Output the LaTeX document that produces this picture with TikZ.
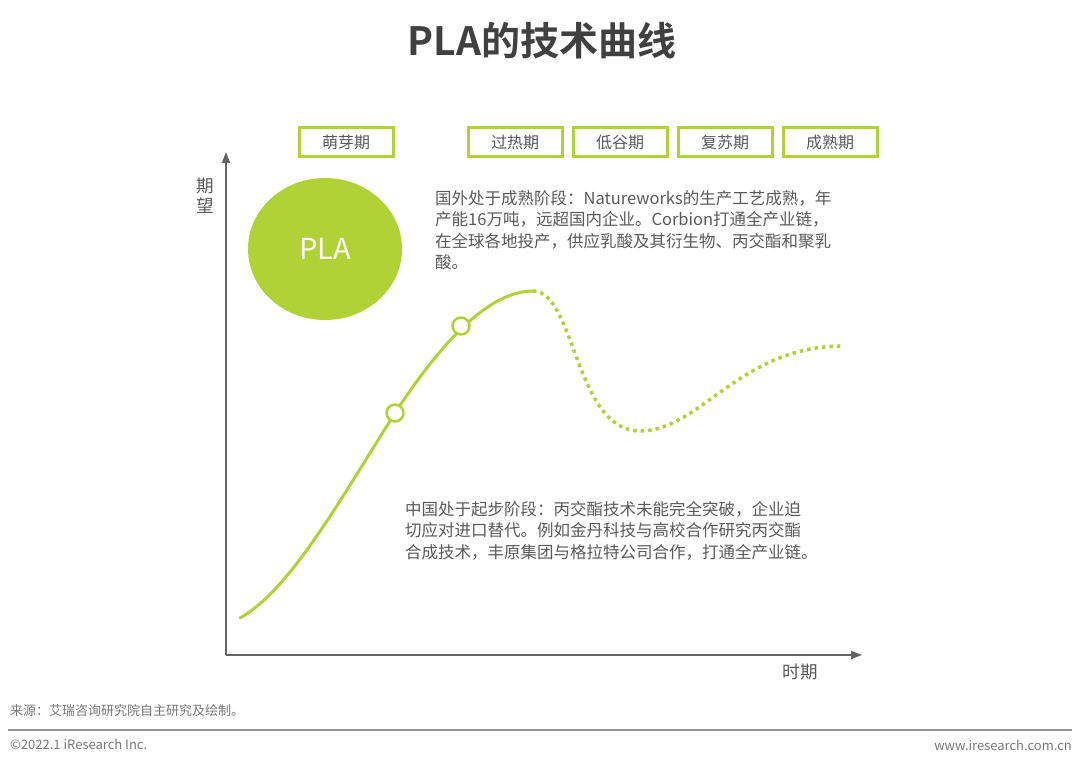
\documentclass[tikz,border=0pt]{standalone}
\usepackage{fontspec}
\setmainfont{Noto Sans CJK SC}[BoldFont={* Bold}]
\usepackage{xcolor}
\usetikzlibrary{arrows.meta,positioning,shapes.geometric}
\definecolor{leafgreen}{RGB}{176,210,54}
\definecolor{textgray}{RGB}{89,89,89}
\definecolor{titlegray}{RGB}{64,64,64}
\definecolor{axisgray}{RGB}{100,100,100}
\definecolor{footgray}{RGB}{120,120,120}

\begin{document}
\begin{tikzpicture}[x=1pt,y=-1pt,
  node distance=8pt,
  phase/.style={draw=leafgreen,line width=3pt,fill=white,text=textgray,minimum width=94pt,minimum height=29pt,inner sep=0pt,font=\fontsize{16}{18}\selectfont},
  note/.style={text=textgray,align=left,anchor=north west,inner sep=0pt,font=\fontsize{16.5}{21.5}\selectfont},
  axis/.style={-{Triangle[length=11pt,width=8pt]},draw=axisgray,line width=1.6pt},
  milestone/.style={circle,draw=leafgreen,line width=2.5pt,fill=white,minimum size=17pt,inner sep=0pt},
  trend/.style={draw=leafgreen,line width=3pt,line cap=round},
  foot/.style={text=footgray,inner sep=0pt,font=\fontsize{13}{15}\selectfont}
]
\useasboundingbox (0,0) rectangle (1080,765);

% title
\node[text=titlegray,font=\fontsize{39}{42}\selectfont\bfseries] (title) at (542,41) {PLA的技术曲线};

% phases
\node[phase] (sprout) at (346,142) {萌芽期};
\node[phase] (overheat) at (515,142) {过热期};
\node[phase,right=of overheat] (trough) {低谷期};
\node[phase,right=of trough] (recover) {复苏期};
\node[phase,right=of recover] (mature) {成熟期};

% axes
\coordinate (origin) at (226,655);
\coordinate (ytop) at (226,152);
\coordinate (xend) at (862,655);
\draw[axis] (origin) -- (ytop);
\draw[axis] (origin) -- (xend);
\node[text=textgray,align=center,font=\fontsize{17.5}{20}\selectfont] (ylabel) at (205,196) {期\\望};
\node[text=textgray,font=\fontsize{17.5}{20}\selectfont] (xlabel) at (800,672) {时期};

% PLA bubble
\node[ellipse,fill=leafgreen,minimum width=154pt,minimum height=142pt,text=white,font=\fontsize{29}{32}\selectfont] (pla) at (325,249) {PLA};

% curve
\draw[trend] (240,618) .. controls (290,590) and (340,500) .. (395,413)
  .. controls (435,352) and (485,291) .. (533,291);
\draw[draw=leafgreen,line width=3.5pt,dash pattern=on 3.5pt off 4pt] (533,291) .. controls (575,291) and (575,431) .. (640,431)
  .. controls (700,431) and (740,346) .. (843,346);
\node[milestone] (m1) at (395,413) {};
\node[milestone] (m2) at (461,326) {};

% notes
\node[note] (abroad) at (435,190) {国外处于成熟阶段：Natureworks的生产工艺成熟，年\\产能16万吨，远超国内企业。Corbion打通全产业链，\\在全球各地投产，供应乳酸及其衍生物、丙交酯和聚乳\\酸。};
\node[note] (china) at (405,501) {中国处于起步阶段：丙交酯技术未能完全突破，企业迫\\切应对进口替代。例如金丹科技与高校合作研究丙交酯\\合成技术，丰原集团与格拉特公司合作，打通全产业链。};

% footer
\node[foot,anchor=west] (source) at (10,711) {来源：艾瑞咨询研究院自主研究及绘制。};
\coordinate (ruleL) at (8,730);
\coordinate (ruleR) at (1072,730);
\draw[draw=footgray!80,line width=1.2pt] (ruleL) -- (ruleR);
\node[foot,anchor=west] (copy) at (10,744) {©2022.1 iResearch Inc.};
\node[foot,anchor=east] (site) at (1072,745) {www.iresearch.com.cn};
\end{tikzpicture}
\end{document}
